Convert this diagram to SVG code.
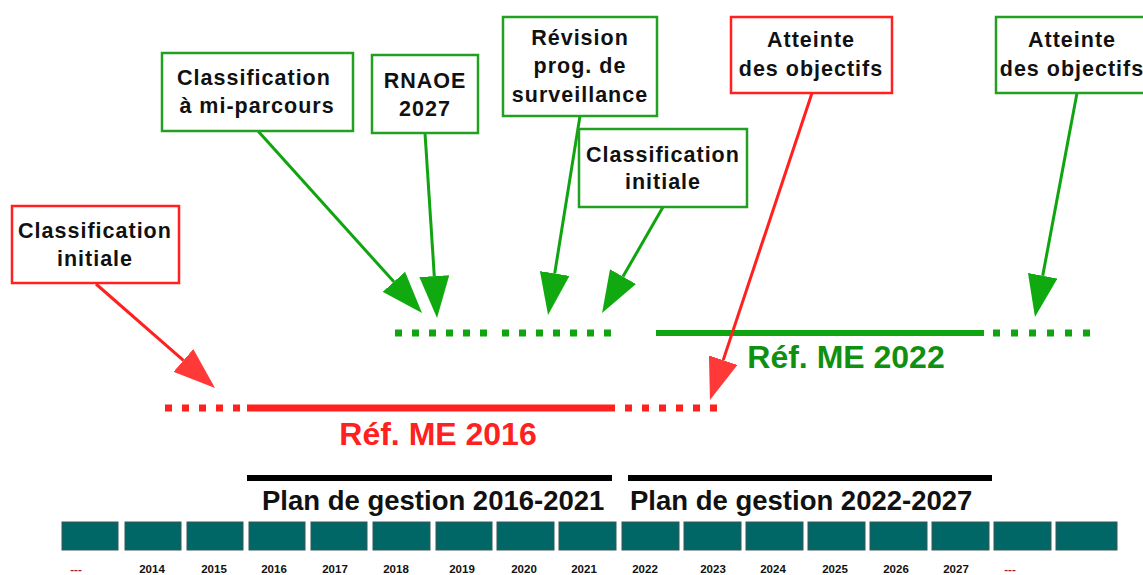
<svg xmlns="http://www.w3.org/2000/svg" width="1143" height="575" viewBox="0 0 1143 575">
<style>
.t{font-family:"Liberation Sans",Arial,sans-serif;font-weight:bold;font-size:21.5px;letter-spacing:1px;fill:#111;text-anchor:middle}
.gb{fill:#fff;stroke:#22a022;stroke-width:2.5}
.rb{fill:#fff;stroke:#ff2020;stroke-width:2.5}
.ga{stroke:#10a510;stroke-width:3;fill:none}
.ra{stroke:#ff2020;stroke-width:3;fill:none}
.yr{font-family:"Liberation Sans",Arial,sans-serif;font-weight:bold;font-size:11.5px;fill:#111;text-anchor:middle}
.cell{fill:#006666;stroke:#3a5656;stroke-width:1}
.plan{font-family:"Liberation Sans",Arial,sans-serif;font-weight:bold;font-size:27.5px;fill:#111}
.ref{font-family:"Liberation Sans",Arial,sans-serif;font-weight:bold;font-size:32px;text-anchor:middle}
</style>
<defs>
<marker id="ag" markerUnits="userSpaceOnUse" markerWidth="42" markerHeight="30" refX="0" refY="15" orient="auto"><path d="M0,0 L42,15 L0,30 z" fill="#10aa10"/></marker>
<marker id="ar" markerUnits="userSpaceOnUse" markerWidth="42" markerHeight="30" refX="0" refY="15" orient="auto"><path d="M0,0 L42,15 L0,30 z" fill="#ff3838"/></marker>
</defs>
<rect width="1143" height="575" fill="#fff"/>

<g id="timeline-2016">
<line x1="165" y1="408" x2="244" y2="408" stroke="#ff2020" stroke-width="7" stroke-dasharray="7 10"/>
<line x1="247" y1="408" x2="615" y2="408" stroke="#ff2020" stroke-width="7"/>
<line x1="625" y1="408" x2="720" y2="408" stroke="#ff2020" stroke-width="7" stroke-dasharray="7 10"/>
<text class="ref" x="438" y="445" fill="#ff2020">Réf. ME 2016</text>
</g>
<g id="timeline-2022">
<line x1="395" y1="333" x2="490" y2="333" stroke="#10a510" stroke-width="7" stroke-dasharray="7 10"/>
<line x1="502" y1="333" x2="614" y2="333" stroke="#10a510" stroke-width="7" stroke-dasharray="7 10"/>
<line x1="656" y1="333" x2="984" y2="333" stroke="#10a510" stroke-width="6"/>
<line x1="993" y1="333" x2="1090" y2="333" stroke="#10a510" stroke-width="7" stroke-dasharray="7 11"/>
<text class="ref" x="846" y="368" fill="#109010">Réf. ME 2022</text>
</g>

<g id="plans">
<line x1="247" y1="478" x2="612" y2="478" stroke="#000" stroke-width="6"/>
<line x1="628" y1="478" x2="992" y2="478" stroke="#000" stroke-width="6"/>
<text class="plan" x="262" y="510">Plan de gestion 2016-2021</text>
<text class="plan" x="630" y="510">Plan de gestion 2022-2027</text>
</g>

<g id="years">
<rect class="cell" x="62" y="522" width="56" height="28"/>
<rect class="cell" x="125" y="522" width="56" height="28"/>
<rect class="cell" x="187" y="522" width="56" height="28"/>
<rect class="cell" x="249" y="522" width="56" height="28"/>
<rect class="cell" x="311" y="522" width="56" height="28"/>
<rect class="cell" x="373" y="522" width="57" height="28"/>
<rect class="cell" x="436" y="522" width="56" height="28"/>
<rect class="cell" x="497" y="522" width="57" height="28"/>
<rect class="cell" x="559" y="522" width="57" height="28"/>
<rect class="cell" x="622" y="522" width="57" height="28"/>
<rect class="cell" x="684" y="522" width="57" height="28"/>
<rect class="cell" x="746" y="522" width="57" height="28"/>
<rect class="cell" x="808" y="522" width="57" height="28"/>
<rect class="cell" x="870" y="522" width="57" height="28"/>
<rect class="cell" x="932" y="522" width="57" height="28"/>
<rect class="cell" x="994" y="522" width="57" height="28"/>
<rect class="cell" x="1056" y="522" width="61" height="28"/>
<text class="yr" x="76" y="573" style="fill:#a02040">---</text>
<text class="yr" x="152" y="573">2014</text>
<text class="yr" x="214" y="573">2015</text>
<text class="yr" x="274" y="573">2016</text>
<text class="yr" x="335" y="573">2017</text>
<text class="yr" x="396" y="573">2018</text>
<text class="yr" x="462" y="573">2019</text>
<text class="yr" x="524" y="573">2020</text>
<text class="yr" x="584" y="573">2021</text>
<text class="yr" x="645" y="573">2022</text>
<text class="yr" x="713" y="573">2023</text>
<text class="yr" x="773" y="573">2024</text>
<text class="yr" x="835" y="573">2025</text>
<text class="yr" x="896" y="573">2026</text>
<text class="yr" x="956" y="573">2027</text>
<text class="yr" x="1010" y="573" style="fill:#a02040">---</text>
</g>

<g id="connectors">
<line class="ra" x1="96" y1="284" x2="183.4" y2="360.4" marker-end="url(#ar)"/>
<line class="ga" x1="258" y1="131" x2="393.9" y2="281.8" marker-end="url(#ag)"/>
<line class="ga" x1="425" y1="133" x2="434.3" y2="276.1" marker-end="url(#ag)"/>
<line class="ga" x1="580" y1="116" x2="554.7" y2="273.5" marker-end="url(#ag)"/>
<line class="ga" x1="663" y1="207" x2="623" y2="276.6" marker-end="url(#ag)"/>
<line class="ra" x1="812" y1="93" x2="723.2" y2="360.1" marker-end="url(#ar)"/>
<line class="ga" x1="1077" y1="93" x2="1042.7" y2="275.7" marker-end="url(#ag)"/>
</g>

<g id="n-classif-init-2016">
<rect class="rb" x="12" y="206" width="167" height="77"/>
<text class="t" x="95" y="238">Classification</text>
<text class="t" x="95" y="266">initiale</text>
</g>
<g id="n-mi-parcours">
<rect class="gb" x="162" y="53" width="191" height="78"/>
<text class="t" x="254" y="85">Classification</text>
<text class="t" x="257" y="113">à mi-parcours</text>
</g>
<g id="n-rnaoe">
<rect class="gb" x="372" y="55" width="106" height="78"/>
<text class="t" x="425" y="88">RNAOE</text>
<text class="t" x="425" y="116">2027</text>
</g>
<g id="n-revision">
<rect class="gb" x="503" y="17" width="154" height="99"/>
<text class="t" x="580" y="45">Révision</text>
<text class="t" x="580" y="73">prog. de</text>
<text class="t" x="580" y="102">surveillance</text>
</g>
<g id="n-classif-init-2022">
<rect class="gb" x="579" y="129" width="168" height="78"/>
<text class="t" x="663" y="162">Classification</text>
<text class="t" x="663" y="189">initiale</text>
</g>
<g id="n-atteinte-2016">
<rect class="rb" x="731" y="17" width="161" height="76"/>
<text class="t" x="811" y="47">Atteinte</text>
<text class="t" x="811" y="76">des objectifs</text>
</g>
<g id="n-atteinte-2022">
<rect class="gb" x="996" y="17" width="160" height="76"/>
<text class="t" x="1072" y="47">Atteinte</text>
<text class="t" x="1072" y="76">des objectifs</text>
</g>
</svg>
